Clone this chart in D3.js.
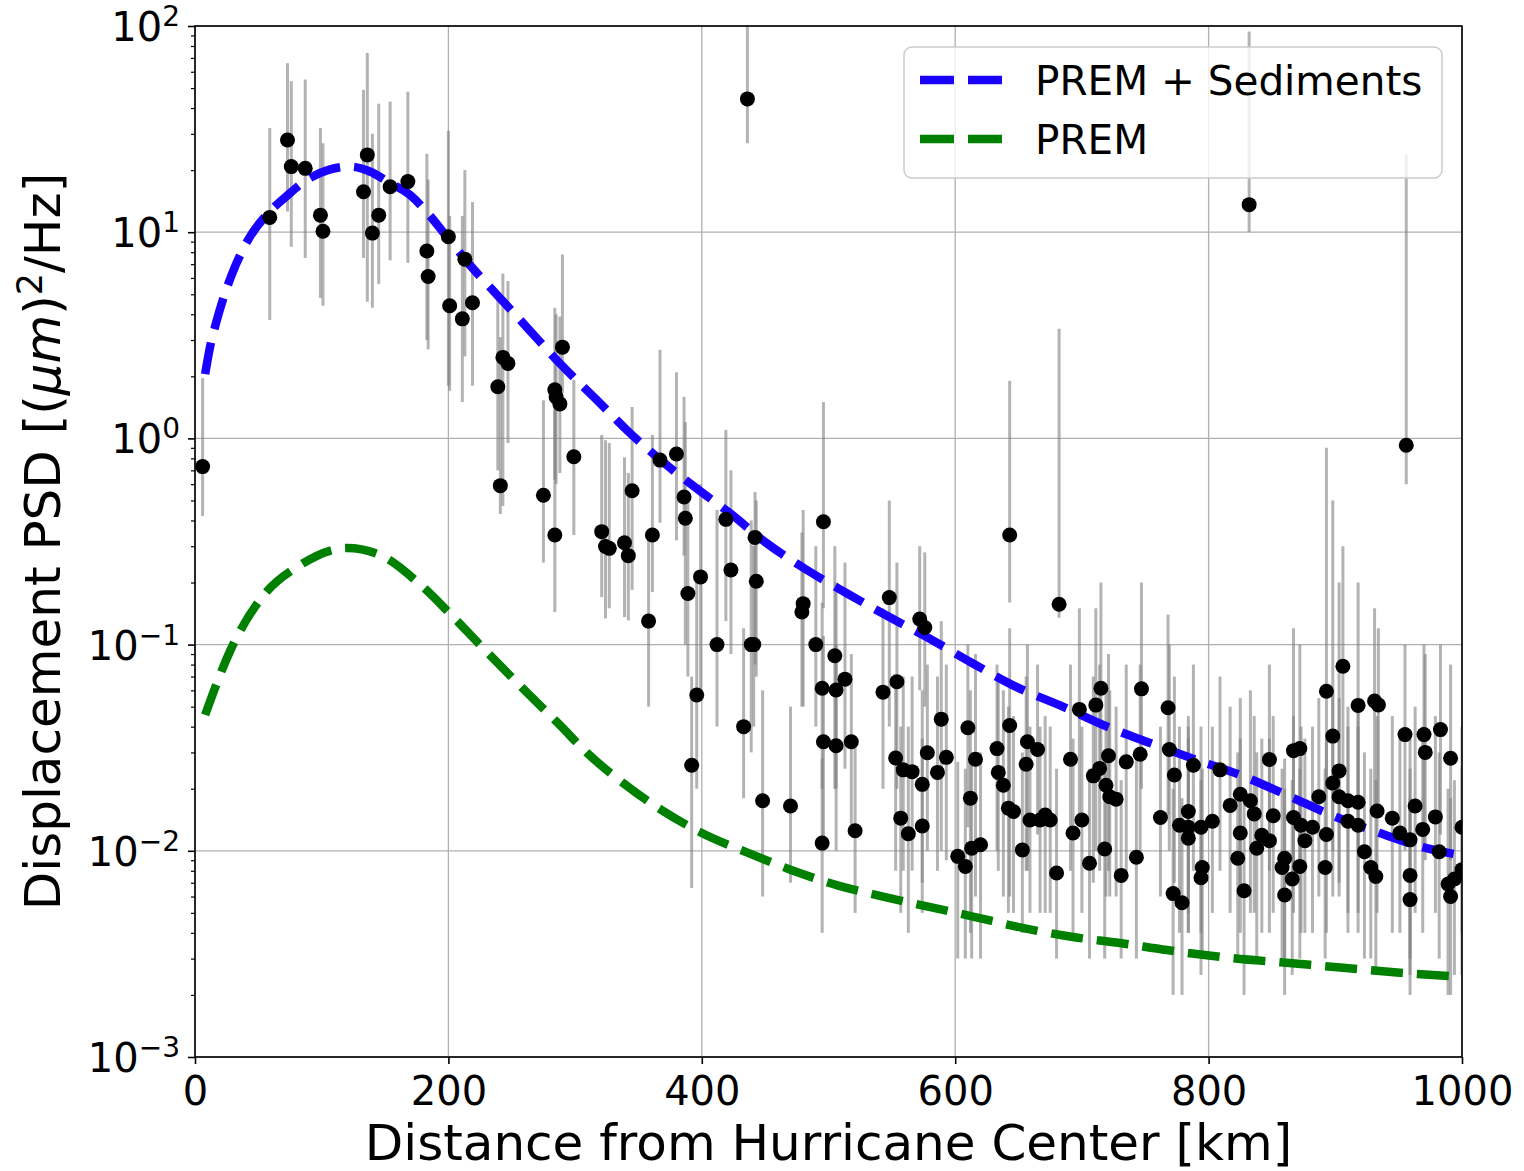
<!DOCTYPE html>
<html>
<head>
<meta charset="utf-8">
<style>
  body { margin: 0; background: #fff; }
  text { font-family: "DejaVu Sans", sans-serif; fill: #000; }
</style>
</head>
<body>
<script src="https://cdn.jsdelivr.net/npm/d3@7/dist/d3.min.js"></script>
<script>
// observed PSD per station: distance [km], value, error bar low / high
var distKm = [
  6, 59, 73, 76, 87, 99, 101, 133, 136, 140,
  145, 154, 168, 183, 184, 200, 201, 211, 213, 219,
  239, 241, 243, 247, 275, 284, 284, 285, 288, 290,
  299, 321, 324, 327, 339, 342, 345, 358, 361, 367,
  380, 386, 387, 389, 392, 396, 399, 412, 419, 423,
  433, 436, 439, 441, 442, 443, 448, 470, 479, 480,
  490, 495, 495, 496, 496, 505, 506, 506, 513, 518,
  521, 543, 548, 553, 554, 557, 559, 563, 566, 572,
  574, 574, 576, 578, 586, 589, 593, 602, 608, 610,
  612, 613, 616, 620, 633, 634, 638, 642, 643, 643,
  646, 653, 656, 657, 659, 665, 667, 671, 675, 680,
  682, 691, 693, 698, 700, 706, 709, 711, 714, 715,
  718, 719, 721, 722, 727, 731, 735, 743, 746, 747,
  762, 768, 769, 772, 773, 777, 779, 784, 784, 784,
  788, 794, 794, 795, 803, 809, 817, 823, 825, 825,
  828, 832, 833, 836, 838, 842, 848, 848, 851, 858,
  860, 860, 866, 867, 867, 872, 872, 873, 876, 882,
  887, 892, 893, 893, 898, 898, 903, 903, 906, 910,
  910, 918, 918, 918, 923, 928, 931, 932, 933, 934,
  945, 951, 955, 956, 959, 959, 959, 963, 969, 970,
  971, 979, 982, 983, 989, 991, 991, 994, 1000, 1000
];
var psdVal = [
  0.73, 11.8, 28.0, 20.8, 20.4, 12.1, 10.1, 15.7, 23.7, 9.9,
  12.1, 16.6, 17.6, 8.1, 6.1, 9.5, 4.4, 3.8, 7.4, 4.55,
  1.78, 0.59, 2.47, 2.31, 0.53, 1.72, 0.34, 1.59, 1.47, 2.77,
  0.815, 0.353, 0.299, 0.293, 0.312, 0.27, 0.557, 0.13, 0.34, 0.785,
  0.84, 0.52, 0.41, 0.177, 0.026, 0.057, 0.213, 0.1, 0.405, 0.23,
  0.04, 44.3, 0.1, 0.1, 0.331, 0.203, 0.0175, 0.0165, 0.144, 0.158,
  0.1, 0.0614, 0.0109, 0.394, 0.0338, 0.0883, 0.0602, 0.0323, 0.068, 0.0338,
  0.0125, 0.0588, 0.169, 0.0282, 0.066, 0.0144, 0.0247, 0.0121, 0.0242, 0.133,
  0.021, 0.0132, 0.121, 0.0299, 0.024, 0.0435, 0.0284, 0.0094, 0.0084, 0.0395,
  0.018, 0.0103, 0.0278, 0.0107, 0.0313, 0.024, 0.0208, 0.0161, 0.34, 0.0405,
  0.0155, 0.0101, 0.0263, 0.0338, 0.0141, 0.031, 0.0141, 0.0149, 0.0141, 0.0078,
  0.157, 0.0278, 0.0122, 0.0485, 0.0141, 0.0087, 0.0231, 0.0509, 0.0251, 0.0614,
  0.0102, 0.0208, 0.0289, 0.0183, 0.0178, 0.0076, 0.027, 0.0093, 0.0294, 0.061,
  0.0145, 0.0494, 0.031, 0.0062, 0.0233, 0.0133, 0.0056, 0.0155, 0.013, 0.0115,
  0.026, 0.013, 0.0074, 0.0083, 0.0139, 0.0247, 0.0166, 0.0092, 0.0188, 0.0122,
  0.0064, 13.6, 0.0175, 0.0151, 0.0103, 0.0119, 0.0112, 0.0277, 0.0148, 0.0083,
  0.0092, 0.0061, 0.0073, 0.0306, 0.0145, 0.0313, 0.0084, 0.0133, 0.0112, 0.013,
  0.0183, 0.0083, 0.0594, 0.012, 0.036, 0.0213, 0.0244, 0.0183, 0.0785, 0.0175,
  0.0139, 0.0507, 0.0172, 0.0133, 0.0099, 0.0083, 0.0533, 0.0075, 0.0156, 0.051,
  0.0144, 0.0122, 0.0366, 0.927, 0.0113, 0.0076, 0.0058, 0.0165, 0.0127, 0.0366,
  0.03, 0.0146, 0.0099, 0.0387, 0.0069, 0.0281, 0.006, 0.0073, 0.013, 0.0081
];
var errLow = [
  0.42, 3.75, 12.6, 8.5, 7.5, 4.8, 4.4, 7.5, 4.6, 4.3,
  5.6, 7.3, 7.1, 3.0, 2.7, 1.8, 1.7, 1.5, 2.5, 1.8,
  0.70, 0.43, 0.47, 0.95, 0.25, 0.63, 0.144, 0.6, 0.68, 1.66,
  0.34, 0.17, 0.134, 0.15, 0.136, 0.131, 0.184, 0.05, 0.18, 0.39,
  0.32, 0.27, 0.1, 0.07, 0.0066, 0.02, 0.06, 0.04, 0.13, 0.09,
  0.018, 27, 0.03, 0.04, 0.08, 0.07, 0.006, 0.007, 0.05, 0.05,
  0.04, 0.02, 0.004, 0.15, 0.01, 0.02, 0.02, 0.01, 0.025, 0.013,
  0.005, 0.02, 0.04, 0.008, 0.02, 0.005, 0.008, 0.004, 0.008, 0.06,
  0.007, 0.005, 0.05, 0.01, 0.008, 0.01, 0.009, 0.003, 0.003, 0.013,
  0.004, 0.003, 0.006, 0.003, 0.01, 0.008, 0.006, 0.005, 0.16, 0.006,
  0.005, 0.004, 0.008, 0.008, 0.005, 0.012, 0.005, 0.005, 0.005, 0.003,
  0.135, 0.008, 0.004, 0.015, 0.005, 0.003, 0.007, 0.01, 0.008, 0.02,
  0.003, 0.006, 0.008, 0.006, 0.006, 0.003, 0.008, 0.003, 0.01, 0.02,
  0.006, 0.015, 0.01, 0.002, 0.007, 0.004, 0.002, 0.005, 0.004, 0.004,
  0.008, 0.004, 0.0025, 0.003, 0.005, 0.008, 0.005, 0.003, 0.006, 0.004,
  0.002, 10, 0.005, 0.005, 0.003, 0.004, 0.004, 0.008, 0.005, 0.003,
  0.003, 0.002, 0.0025, 0.008, 0.005, 0.008, 0.003, 0.004, 0.004, 0.004,
  0.006, 0.003, 0.02, 0.004, 0.01, 0.006, 0.007, 0.006, 0.025, 0.005,
  0.004, 0.01, 0.005, 0.004, 0.003, 0.003, 0.015, 0.0025, 0.005, 0.015,
  0.004, 0.004, 0.01, 0.6, 0.003, 0.0025, 0.002, 0.005, 0.004, 0.01,
  0.009, 0.005, 0.003, 0.012, 0.002, 0.009, 0.002, 0.0025, 0.004, 0.0025
];
var errHigh = [
  1.96, 32, 66, 54, 55, 32, 27, 49, 74, 30,
  42, 43, 48, 24, 18, 31, 12, 12, 20, 14,
  4.7, 3.1, 6.3, 5.8, 1.53, 4.3, 1.37, 4.0, 3.9, 7.8,
  1.92, 1.04, 0.98, 0.95, 0.81, 0.68, 1.42, 0.33, 1.04, 2.69,
  2.09, 1.59, 1.2, 0.54, 0.07, 0.2, 0.6, 0.45, 1.1, 0.7,
  0.12, 150, 0.4, 0.3, 0.55, 0.5, 0.06, 0.05, 0.35, 0.45,
  0.3, 0.16, 0.028, 1.5, 0.11, 0.3, 0.2, 0.1, 0.25, 0.09,
  0.035, 0.15, 0.5, 0.07, 0.25, 0.04, 0.07, 0.04, 0.07, 0.3,
  0.06, 0.035, 0.28, 0.08, 0.07, 0.13, 0.08, 0.027, 0.025, 0.1,
  0.06, 0.03, 0.09, 0.03, 0.08, 0.07, 0.06, 0.05, 1.9, 0.12,
  0.045, 0.03, 0.07, 0.1, 0.04, 0.08, 0.04, 0.045, 0.04, 0.025,
  3.4, 0.08, 0.035, 0.15, 0.04, 0.025, 0.07, 0.15, 0.08, 0.2,
  0.03, 0.06, 0.09, 0.06, 0.05, 0.022, 0.08, 0.028, 0.08, 0.2,
  0.04, 0.14, 0.1, 0.02, 0.07, 0.04, 0.018, 0.045, 0.04, 0.035,
  0.08, 0.04, 0.022, 0.025, 0.04, 0.07, 0.05, 0.03, 0.055, 0.035,
  0.02, 94, 0.06, 0.045, 0.03, 0.035, 0.035, 0.08, 0.045, 0.025,
  0.028, 0.02, 0.022, 0.12, 0.045, 0.1, 0.025, 0.04, 0.035, 0.04,
  0.055, 0.025, 0.9, 0.035, 0.5, 0.06, 0.2, 0.055, 0.3, 0.05,
  0.04, 0.2, 0.05, 0.04, 0.03, 0.025, 0.15, 0.022, 0.045, 0.12,
  0.045, 0.035, 0.1, 23.7, 0.035, 0.025, 0.018, 0.05, 0.04, 0.1,
  0.09, 0.045, 0.03, 0.1, 0.02, 0.08, 0.018, 0.022, 0.04, 0.025
];

// model curves
var sedKm  = [8, 12, 17, 22, 32, 42, 59, 72, 88, 106, 122, 138, 154, 170, 185, 200, 220, 238,
              263, 288, 316, 342, 372, 399, 422, 451, 483, 514, 548, 582, 614, 649, 685, 720,
              754, 791, 825, 862, 898, 935, 972, 1000];
var sedPsd = [2.05, 2.8, 3.7, 4.7, 6.9, 9.2, 12.6, 14.9, 17.9, 20.1, 20.8, 19.7, 17.3, 15.1, 12.1, 9.3, 6.6, 5.0,
              3.4, 2.31, 1.56, 1.08, 0.745, 0.553, 0.435, 0.311, 0.23, 0.178, 0.136, 0.105, 0.081, 0.062, 0.050, 0.040,
              0.0333, 0.0275, 0.0233, 0.0186, 0.0148, 0.0122, 0.0103, 0.0095];
var premKm  = [8, 28, 51, 83, 120, 146, 178, 200, 225, 256, 288, 309, 338, 368, 400, 436, 470,
               507, 543, 614, 653, 693, 730, 767, 809, 880, 956, 1000];
var premPsd = [0.0456, 0.094, 0.164, 0.243, 0.294, 0.272, 0.195, 0.144, 0.0996, 0.0637, 0.0407, 0.030, 0.0213, 0.0158, 0.0122, 0.0098, 0.0081,
               0.0068, 0.0060, 0.0048, 0.00423, 0.00382, 0.00357, 0.0033, 0.00306, 0.0028, 0.00255, 0.00245];

var xTicks = [0, 200, 400, 600, 800, 1000];
var yDecades = [-3, -2, -1, 0, 1, 2];
var legendNames = ["PREM + Sediments", "PREM"];
var curveColors = ["#1a00ff", "#008000"];

var margin = {top: 26, left: 195},
    width = 1267,
    height = 1031;

var svg = d3.select("body").append("svg")
    .attr("width", 1524)
    .attr("height", 1171);

svg.append("rect").attr("width", 1524).attr("height", 1171).attr("fill", "#fff");

var g = svg.append("g")
    .attr("transform", "translate(" + margin.left + "," + margin.top + ")");

var x = d3.scaleLinear().domain([0, 1000]).range([0, width]);
var y = d3.scaleLog().domain([1e-3, 1e2]).range([height, 0]);

g.append("clipPath").attr("id", "plotclip")
  .append("rect").attr("width", width).attr("height", height);

// grid
g.selectAll(".gx").data(xTicks).enter().append("line")
    .attr("x1", d => x(d)).attr("x2", d => x(d))
    .attr("y1", 0).attr("y2", height)
    .attr("stroke", "#b0b0b0").attr("stroke-width", 1.3);
g.selectAll(".gy").data(yDecades).enter().append("line")
    .attr("x1", 0).attr("x2", width)
    .attr("y1", d => y(Math.pow(10, d))).attr("y2", d => y(Math.pow(10, d)))
    .attr("stroke", "#b0b0b0").attr("stroke-width", 1.3);

var plot = g.append("g").attr("clip-path", "url(#plotclip)");

var idx = d3.range(distKm.length);

// error bars
plot.selectAll(".err").data(idx).enter().append("line")
    .attr("x1", i => x(distKm[i])).attr("x2", i => x(distKm[i]))
    .attr("y1", i => y(errHigh[i])).attr("y2", i => y(errLow[i]))
    .attr("stroke", "#808080").attr("stroke-opacity", 0.6).attr("stroke-width", 3);

// model curves
var line = d3.line().curve(d3.curveMonotoneX);
var curves = [
  {k: sedKm, v: sedPsd},
  {k: premKm, v: premPsd}
];
curves.forEach(function (c, j) {
  plot.append("path")
      .attr("d", line(c.k.map((d, i) => [x(d), y(c.v[i])])))
      .attr("fill", "none")
      .attr("stroke", curveColors[j])
      .attr("stroke-width", 8.5)
      .attr("stroke-dasharray", "32,14");
});

// data points
plot.selectAll(".pt").data(idx).enter().append("circle")
    .attr("cx", i => x(distKm[i]))
    .attr("cy", i => y(psdVal[i]))
    .attr("r", 7.5)
    .attr("fill", "#000");

// spines
g.append("rect").attr("width", width).attr("height", height)
    .attr("fill", "none").attr("stroke", "#000").attr("stroke-width", 1.6);

// x axis
var xAxis = g.append("g")
    .attr("transform", "translate(0," + height + ")")
    .call(d3.axisBottom(x).tickValues(xTicks).tickSize(7).tickSizeOuter(0).tickPadding(8).tickFormat(d3.format("d")));
xAxis.select(".domain").remove();
xAxis.selectAll("line").attr("stroke-width", 1.6);
xAxis.selectAll("text")
    .attr("font-family", "DejaVu Sans").attr("font-size", 40).attr("fill", "#000")
    .attr("dy", null).attr("y", 48);

// y axis ticks
var minorVals = [];
yDecades.slice(0, -1).forEach(function (e) {
  for (var m = 2; m <= 9; m++) minorVals.push(m * Math.pow(10, e));
});
var yMinor = g.append("g")
    .call(d3.axisLeft(y).tickValues(minorVals).tickSize(4).tickSizeOuter(0).tickFormat(""));
yMinor.select(".domain").remove();
yMinor.selectAll("line").attr("stroke-width", 1.2);

var yMajor = g.append("g")
    .call(d3.axisLeft(y).tickValues(yDecades.map(e => Math.pow(10, e))).tickSize(7).tickSizeOuter(0).tickFormat(""));
yMajor.select(".domain").remove();
yMajor.selectAll("line").attr("stroke-width", 1.6);

var yLab = g.selectAll(".ylab").data(yDecades).enter().append("text")
    .attr("x", -15)
    .attr("y", d => y(Math.pow(10, d)) + 15)
    .attr("text-anchor", "end")
    .attr("font-size", 40);
yLab.append("tspan").text("10");
yLab.append("tspan").attr("font-size", 28).attr("dy", -15)
    .text(d => (d < 0 ? "\u2212" : "") + Math.abs(d));

// axis titles
g.append("text")
    .attr("x", width / 2).attr("y", 1134)
    .attr("text-anchor", "middle").attr("font-size", 50)
    .text("Distance from Hurricane Center [km]");

var yt = g.append("text")
    .attr("transform", "translate(-135," + (height / 2) + ") rotate(-90)")
    .attr("text-anchor", "middle").attr("font-size", 50);
yt.append("tspan").text("Displacement PSD [(");
yt.append("tspan").attr("font-style", "italic").text("\u03bcm");
yt.append("tspan").text(")");
yt.append("tspan").attr("font-size", 35).attr("dy", -18).text("2");
yt.append("tspan").attr("dy", 18).text("/Hz]");

// legend
var leg = svg.append("g");
leg.append("rect")
    .attr("x", 904).attr("y", 47).attr("width", 538).attr("height", 131).attr("rx", 8)
    .attr("fill", "#fff").attr("fill-opacity", 0.8)
    .attr("stroke", "#cccccc").attr("stroke-width", 1.5);
legendNames.forEach(function (name, j) {
  var cy = 80 + j * 59;
  leg.append("line")
      .attr("x1", 920).attr("x2", 1003).attr("y1", cy).attr("y2", cy)
      .attr("stroke", curveColors[j]).attr("stroke-width", 8.5)
      .attr("stroke-dasharray", "34,14");
  leg.append("text")
      .attr("x", 1035).attr("y", cy + 15)
      .attr("font-size", 40.5)
      .text(name);
});
</script>
</body>
</html>
